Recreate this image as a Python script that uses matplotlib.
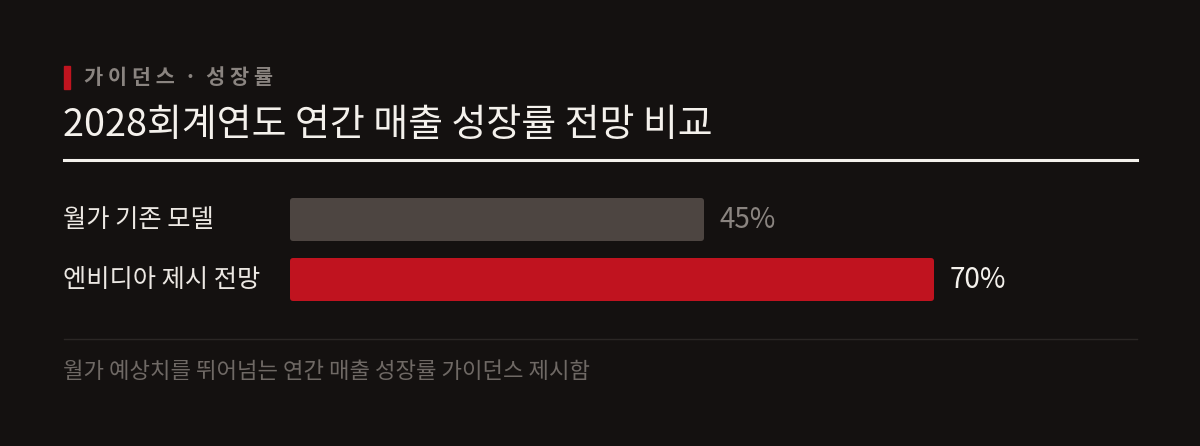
import matplotlib
matplotlib.use('Agg')
import matplotlib.pyplot as plt
from matplotlib.patches import FancyBboxPatch

plt.rcParams['font.family'] = ['Noto Sans CJK KR', 'DejaVu Sans']

kicker = '가이던스 · 성장률'
title = '2028회계연도 연간 매출 성장률 전망 비교'
labels = ['월가 기존 모델', '엔비디아 제시 전망']
values = [45, 70]
note = '월가 예상치를 뛰어넘는 연간 매출 성장률 가이던스 제시함'

BG = '#141110'
W, H = 1200, 446

fig = plt.figure(figsize=(W / 100, H / 100), dpi=100, facecolor=BG)


def fx(px):
    return px / W


def fy(py):
    return 1 - py / H


# header
fig.patches.append(plt.Rectangle((fx(64), fy(89)), fx(6), 23 / H, transform=fig.transFigure,
                                 color='#c0141f', zorder=2))
fig.text(fx(84), fy(77), ' '.join(kicker.replace(' ', '')).replace('·', ' · '),
         color='#8a8480', fontsize=15, fontweight='bold', va='center', ha='left')
fig.text(fx(63), fy(126), title, color='#f4f1ec', fontsize=27.3, fontweight='medium',
         va='center', ha='left')
fig.add_artist(plt.Line2D([fx(64), fx(1137)], [fy(159.5)] * 2, color='#f4f1ec', lw=2.2))

# bars
ax = fig.add_axes([fx(290), fy(320), fx(1137 - 290), 140 / H])
ax.set_facecolor('none')
xmax = (1137 - 290) / 9.2
ax.set_xlim(0, xmax)
ax.set_ylim(1 + 40.5 / 60, -39.5 / 60)
ax.axis('off')

colors = ['#4d4541', '#c0131f']
val_colors = ['#8a8480', '#f4f1ec']
val_weights = ['normal', 'medium']
bars = ax.barh(range(len(values)), values, height=43 / 60, color='none')
for i, b in enumerate(bars):
    p = FancyBboxPatch((b.get_x(), b.get_y()), b.get_width(), b.get_height(),
                       boxstyle='round,pad=0,rounding_size=0.35',
                       mutation_aspect=9.2 / 60, color=colors[i], lw=0)
    ax.add_patch(p)
    ax.annotate(f'{values[i]}%', (values[i], i), xytext=(11.5, 0), textcoords='offset points',
                va='center', ha='left', color=val_colors[i], fontsize=20,
                fontweight=val_weights[i])
    fig.text(fx(63), fy(220 + 60 * i), labels[i], color='#ece8e3', fontsize=18.2,
             va='center', ha='left')

# footer
fig.add_artist(plt.Line2D([fx(64), fx(1137)], [fy(338.5)] * 2, color='#2b2725', lw=1))
fig.text(fx(63), fy(371), note, color='#6f6965', fontsize=16, va='center', ha='left')

fig.savefig('out.png', dpi=100, facecolor=BG)
